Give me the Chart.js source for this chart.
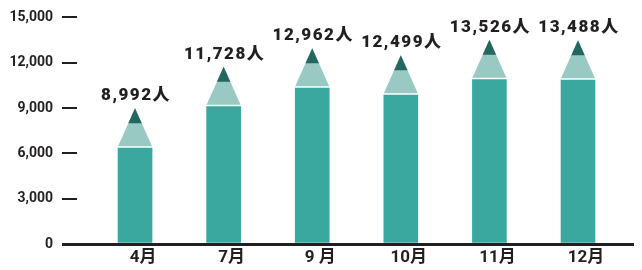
<!DOCTYPE html>
<html>
<head>
<meta charset="utf-8">
<script src="https://cdn.jsdelivr.net/npm/chart.js@4.4.1/dist/chart.umd.min.js"></script>
<style>
  html, body { margin: 0; padding: 0; background: #fff; }
  #wrap { width: 642px; height: 270px; }
</style>
</head>
<body>
<div id="wrap"><canvas id="pencils"></canvas></div>
<script>
var months = ["4月", "7月", "9 月", "10月", "11月", "12月"];
var visitors = [8992, 11728, 12962, 12499, 13526, 13488];
var yTicks = [0, 3000, 6000, 9000, 12000, 15000];
var unit = "人";

var INK = "#231f20";
var FONT = "Roboto, 'Noto Sans CJK JP', sans-serif";

// pencil head, px
var HEAD = 38, TIP = 15, GAP = 1.5;

var pencilPlugin = {
  id: "pencil",
  beforeDatasetDraw: function(chart, args) {
    // cut the top of each bar so the head sits on it
    var ctx = chart.ctx;
    ctx.save();
    ctx.beginPath();
    args.meta.data.forEach(function(bar) {
      var top = bar.y + HEAD + GAP;
      ctx.rect(bar.x - bar.width / 2 - 1, top, bar.width + 2, bar.base - top + 2);
    });
    ctx.clip();
  },
  afterDatasetDraw: function(chart, args) {
    var ctx = chart.ctx;
    ctx.restore();
    args.meta.data.forEach(function(bar, i) {
      var half = bar.width / 2;
      var h = half * TIP / HEAD;
      ctx.fillStyle = "#98cac3";
      ctx.beginPath();
      ctx.moveTo(bar.x, bar.y);
      ctx.lineTo(bar.x + half, bar.y + HEAD);
      ctx.lineTo(bar.x - half, bar.y + HEAD);
      ctx.closePath();
      ctx.fill();

      ctx.fillStyle = "#246660";
      ctx.beginPath();
      ctx.moveTo(bar.x, bar.y);
      ctx.lineTo(bar.x + h, bar.y + TIP);
      ctx.lineTo(bar.x - h, bar.y + TIP);
      ctx.closePath();
      ctx.fill();

      ctx.save();
      ctx.font = "900 17px " + FONT;
      ctx.letterSpacing = "1.5px";
      ctx.fillStyle = INK;
      ctx.textAlign = "center";
      ctx.textBaseline = "alphabetic";
      ctx.fillText(visitors[i].toLocaleString("en-US") + unit, bar.x + 1, bar.y - 8);
      ctx.restore();
    });
  }
};

window.onload = function() {
  var ctx = document.getElementById("pencils").getContext("2d");
  window.myBar = new Chart(ctx, {
    type: "bar",
    data: {
      datasets: [{
        label: "visitors",
        data: visitors.map(function(v, i) { return { x: i, y: v }; }),
        backgroundColor: "#3aa89e",
        barThickness: 34
      }]
    },
    options: {
      responsive: true,
      maintainAspectRatio: false,
      animation: false,
      locale: "en-US",
      layout: { padding: { top: 17, right: 8, left: 0, bottom: 0 } },
      plugins: {
        legend: { display: false },
        tooltip: { enabled: false }
      },
      scales: {
        x: {
          type: "linear",
          offset: false,
          min: -0.655,
          max: 5.632,
          grid: { display: false, drawTicks: false },
          border: { display: false },
          afterFit: function(s) { s.height = 26; },
          afterBuildTicks: function(s) {
            s.ticks = months.map(function(m, i) { return { value: i }; });
          },
          ticks: {
            autoSkip: false,
            maxRotation: 0,
            padding: 4,
            labelOffset: 8,
            color: INK,
            font: { family: FONT, size: 17, weight: "bold" },
            callback: function(v) { return months[v]; }
          }
        },
        y: {
          min: 0,
          max: 15000,
          afterFit: function(s) { s.width = 77; },
          afterBuildTicks: function(s) {
            s.ticks = yTicks.map(function(v) { return { value: v }; });
          },
          border: { display: false },
          grid: {
            z: 1,
            tickLength: 15,
            color: function(c) { return c.tick && c.tick.value === 0 ? INK : "rgba(0,0,0,0)"; },
            lineWidth: function(c) { return c.tick && c.tick.value === 0 ? 3 : 0; },
            tickColor: INK,
            tickWidth: function(c) { return c.tick && c.tick.value === 0 ? 3 : 2; }
          },
          ticks: {
            padding: 9,
            color: INK,
            font: { family: FONT, size: 14, weight: "bold" }
          }
        }
      }
    },
    plugins: [pencilPlugin]
  });
};
</script>
</body>
</html>
